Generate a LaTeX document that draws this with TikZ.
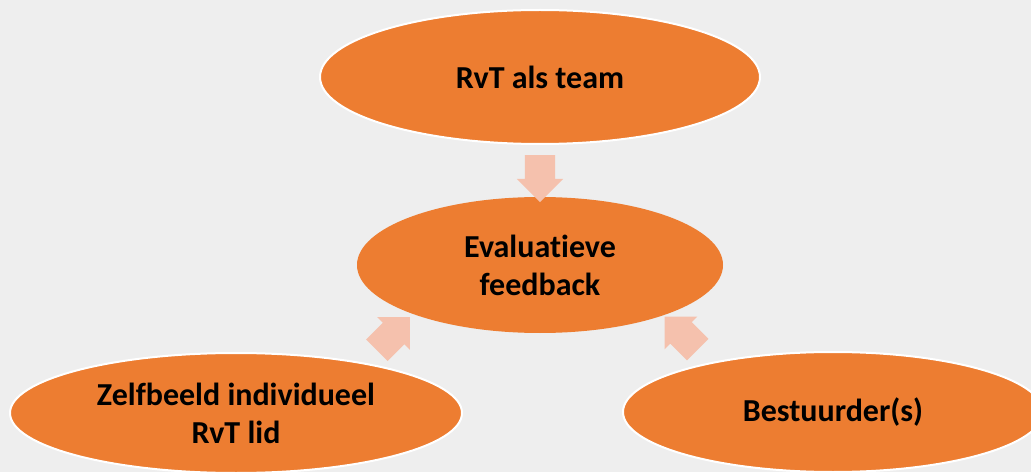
\documentclass[tikz,border=0pt]{standalone}
\usepackage{fontspec}
\setmainfont{Carlito}[Ligatures={NoCommon}]
\usetikzlibrary{shapes.geometric, shapes.arrows, calc}
\definecolor{bgc}{HTML}{EEEEEE}
\definecolor{orng}{HTML}{ED7D31}
\definecolor{salm}{HTML}{F5C1AD}
\tikzset{
    ovl/.style={ellipse, fill=orng, inner sep=0pt, align=center, font=\fontsize{32}{38}\selectfont\bfseries},
    ovlw/.style={ovl, draw=white, line width=2pt},
    barr/.style={single arrow, fill=salm, inner xsep=0pt, inner ysep=15pt, minimum height=47pt, single arrow head extend=8pt}
}

\begin{document}
\begin{tikzpicture}[x=1pt, y=1pt]
    \useasboundingbox (0,0) rectangle (1031,472);
    \clip (0,0) rectangle (1031,472);
    \fill[bgc] (0,0) rectangle (1031,472);

    \node[ovlw, minimum width=440pt, minimum height=134pt] (team) at (540,395) {RvT als team};
    \node[ovl, minimum width=366pt, minimum height=136pt] (eval) at (540,207) {Evaluatieve\\feedback};
    \node[ovlw, minimum width=452pt, minimum height=120pt] (zelf) at (236,59) {Zelfbeeld individueel\\RvT lid};
    \node[ovlw, minimum width=420pt, minimum height=120pt] (best) at (833,60) {Bestuurder(s)};

    \node[barr, rotate=-90] (a1) at ($(team)!0.5!(eval)$) {};
    \node[barr, rotate=45] (a2) at ($(zelf)!0.5!(eval)$) {};
    \node[barr, rotate=135] (a3) at ($(best)!0.5!(eval)$) {};
\end{tikzpicture}
\end{document}
